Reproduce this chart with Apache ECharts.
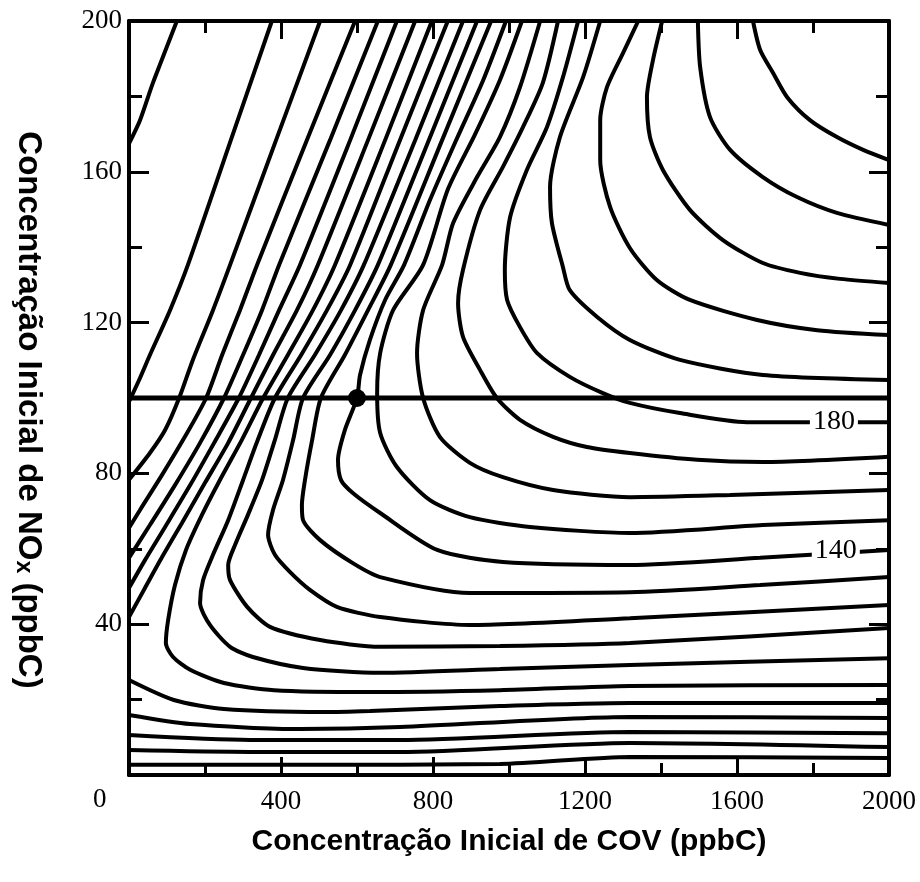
<!DOCTYPE html>
<html>
<head>
<meta charset="utf-8">
<script src="https://cdn.jsdelivr.net/npm/echarts@6/dist/echarts.min.js"></script>
<style>html,body{margin:0;padding:0;background:#fff}#c{width:920px;height:882px}</style>
</head>
<body>
<div id="c"></div>
<script>
// Axis ticks
const xTicks = [0, 400, 800, 1200, 1600, 2000];
const yTicks = [0, 40, 80, 120, 160, 200];

// Reference line NOx = 100 and the marked point
const refLine = [[0, 100], [2000, 100]];
const refPoint = [[600, 100]];

// Isopleth labels
const isoLabels = [
  { name: '180', value: [1855, 93.6] },
  { name: '140', value: [1860, 59.6] }
];

// Isopleths: segments from top edge to left edge (low VOC region)
const lineA1 = [[0,167.5],[29,173.7],[63,183.6],[126,200]];
const lineA2 = [[376,200],[268,168.4],[155,135.3],[108,123.3],[55,111.4],[29,105.3],[0,99]];
const lineA3 = [[503,200],[387,168.4],[266,135.3],[221,123.3],[168,110.1],[132,100],[95,91.5],[55,85.4],[0,78.3]];
const lineA4 = [[595,200],[468,168.4],[337,135.3],[292,123.3],[245,111.4],[203,100],[147,89.7],[87,79.6],[29,70.3],[0,65.5]];
const lineA5 = [[655,200],[529,168.4],[395,135.3],[350,123.3],[300,111.4],[250,100],[187,88.1],[121,76.9],[55,66.3],[0,57.6]];
const lineA6 = [[705,200],[582,168.4],[450,135.3],[395,123.3],[342,111.4],[289,100],[224,88.1],[161,76.9],[95,65.8],[42,57],[0,49.6]];
const lineA7 = [[753,200],[629,168.4],[497,135.3],[442,123.3],[379,111.4],[321,100],[261,88.1],[200,77.5],[139,66.8],[87,57.8],[42,49.6],[0,41.9]];

// Isopleths: turning curves from top edge to right edge
const lineT1 = [[797,200],[674,168.4],[542,135.3],[484,123.3],[418,111.4],[353,100],[297,88.9],[239,78.2],[192,69],[150,59.7],[121,50.4],[103,41.1],[97,35],[116,31.3],[161,27.9],[250,24.4],[382,22.5],[634,22],[976,22.5],[1318,23.6],[2000,23.9]];
const lineT2 = [[839,200],[713,168.4],[582,135.3],[521,123.3],[453,111.4],[384,100],[339,88.9],[300,78.2],[261,67.6],[221,58.4],[195,51.7],[187,45.6],[213,39.8],[266,34],[326,31.3],[458,28.4],[661,27.1],[976,28.1],[1318,29.2],[2000,31]];
const lineT3 = [[879,200],[753,168.4],[618,135.3],[558,123.3],[489,111.4],[418,100],[384,88.9],[350,78.2],[313,69],[279,61],[261,55.7],[266,51.7],[311,44.6],[371,39.3],[503,35.8],[661,34],[976,34.2],[1318,35],[2000,39]];
const lineT4 = [[916,200],[789,168.4],[655,135.3],[595,123.3],[529,111.4],[458,100],[432,88.9],[405,78.2],[379,70.3],[366,63.7],[384,58.4],[424,53.8],[476,49.1],[547,44.6],[661,41.9],[897,39.8],[1318,41.6],[2000,45.1]];
const lineT5 = [[953,200],[824,168.4],[689,135.3],[629,123.3],[568,111.4],[505,100],[482,88.9],[463,78.2],[455,71.6],[458,67.6],[503,62.3],[589,56.2],[661,52.5],[897,48.3],[1318,48.5],[1661,50.4],[2000,52.5]];
const line140 = [[992,200],[932,184.3],[861,168.4],[792,152.5],[724,135.3],[674,126],[634,115.4],[608,106.1],[600,100],[568,91.5],[550,83.6],[558,78.2],[589,74.8],[661,69.5],[811,59.7],[984,56.5],[1318,55.7],[1661,57.6],[2000,59.7]];
const line150 = [[1034,200],[976,184.3],[910,169.8],[839,155.3],[774,135.3],[695,123.3],[661,111.9],[653,101.3],[661,90.7],[705,81.7],[792,72.9],[897,68.4],[1055,65.8],[1318,64.2],[1668,66.3],[2000,67.6]];
const line160 = [[1082,200],[1029,182.5],[976,169.2],[916,158.6],[853,146.4],[824,135.3],[774,123.3],[758,111.9],[774,100],[818,89.7],[897,82.8],[984,79],[1116,75.6],[1318,73.7],[1582,74.3],[2000,75.6]];
const line170 = [[1129,200],[1089,183.6],[1037,171.9],[984,161.3],[924,149.9],[879,134],[866,125.2],[879,116.2],[924,107.4],[968,100],[1029,94.2],[1116,89.7],[1205,87],[1318,85.4],[1495,83.6],[1668,83],[2000,84.4]];
const line180 = [[1182,200],[1142,185.1],[1100,171.9],[1047,160.5],[1003,148],[989,134],[995,126],[1029,118.8],[1074,111.9],[1160,105.6],[1247,101.3],[1318,98.7],[1450,96],[1626,93.6],[2000,93.6]];
const line190 = [[1240,200],[1195,185.1],[1134,169.2],[1108,156],[1113,146.4],[1142,134.7],[1160,128.6],[1232,121.5],[1318,115.4],[1450,110.1],[1668,106.1],[2000,104.8]];
const line200 = [[1340,200],[1300,191.5],[1258,182.5],[1240,173.7],[1240,163.1],[1266,150.7],[1318,139.8],[1389,131.3],[1476,126],[1653,120.7],[1811,118],[2000,116.7]];
const line210 = [[1403,200],[1379,189.7],[1363,179.8],[1371,169.2],[1405,160.5],[1476,149.9],[1563,141.9],[1668,135.8],[1766,133.2],[1871,131.6],[2000,130.5]];
const line220 = [[1497,200],[1503,187.8],[1529,174.5],[1582,165.8],[1668,158.6],[1758,153.3],[1863,149.1],[2000,145.9]];
const line230 = [[1642,200],[1661,192.3],[1695,186.2],[1732,179.8],[1792,173.7],[1863,169.2],[1932,165.8],[2000,163.1]];

// Isopleths: low-NOx segments from left edge to right edge
const lineB1 = [[0,25.2],[118,19.9],[250,17.5],[513,16.7],[634,17],[976,18.3],[1318,19.1],[2000,19.1]];
const lineB2 = [[0,15.9],[161,13.5],[450,12.2],[713,12.7],[1318,15.4],[2000,15.1]];
const lineB3 = [[0,10.6],[318,9.3],[713,9.3],[1318,11.4],[2000,11.1]];
const lineB4 = [[0,6.6],[318,6.1],[713,6.1],[1318,8.5],[2000,7.4]];
const lineB5 = [[0,2.7],[450,2.7],[976,2.9],[1318,4.8],[2000,4.5]];

const contours = [lineA1,lineA2,lineA3,lineA4,lineA5,lineA6,lineA7,
  lineT1,lineT2,lineT3,lineT4,lineT5,line140,line150,line160,line170,line180,line190,line200,line210,line220,line230,
  lineB1,lineB2,lineB3,lineB4,lineB5];

const serif = 'Liberation Serif';
const sans = 'Liberation Sans';

const chart = echarts.init(document.getElementById('c'), null, { renderer: 'canvas' });

const lineStyleAxis = { color: '#000', width: 4 };
const tickStyle = { color: '#000', width: 3 };

function xAx(pos, labels) {
  return {
    type: 'value', position: pos, min: xTicks[0], max: xTicks[xTicks.length - 1], interval: xTicks[1] - xTicks[0],
    axisLine: { show: true, onZero: false, lineStyle: lineStyleAxis },
    axisTick: { show: true, inside: true, length: 18, lineStyle: tickStyle },
    minorTick: { show: true, splitNumber: 2, length: 12, lineStyle: tickStyle },
    splitLine: { show: false }, minorSplitLine: { show: false },
    axisLabel: { show: labels, showMinLabel: false, margin: 13, fontFamily: serif, fontSize: 27, color: '#000',
      formatter: v => String(v) },
    name: labels ? 'Concentração Inicial de COV (ppbC)' : '',
    nameLocation: 'middle', nameGap: 52,
    nameTextStyle: { fontFamily: sans, fontWeight: 'bold', fontSize: 30, color: '#000' }
  };
}
function yAx(pos, labels) {
  return {
    type: 'value', position: pos, min: yTicks[0], max: yTicks[yTicks.length - 1], interval: yTicks[1] - yTicks[0],
    axisLine: { show: true, onZero: false, lineStyle: lineStyleAxis },
    axisTick: { show: true, inside: true, length: 20, lineStyle: tickStyle },
    minorTick: { show: true, splitNumber: 2, length: 13, lineStyle: tickStyle },
    splitLine: { show: false }, minorSplitLine: { show: false },
    axisLabel: { show: labels, showMinLabel: false, margin: 7, fontFamily: serif, fontSize: 27, color: '#000',
      formatter: v => String(v) },
    name: labels ? 'Concentração Inicial de NO{s|x} (ppbC)' : '',
    nameLocation: 'middle', nameGap: 84, nameRotate: -90,
    nameTextStyle: { fontFamily: sans, fontWeight: 'bold', fontSize: 33, color: '#000', padding: [0, 0, 0, 24],
      rich: { s: { fontFamily: sans, fontWeight: 'bold', fontSize: 23, color: '#000', verticalAlign: 'bottom' } } }
  };
}

const series = contours.map(d => ({
  type: 'line', data: d, xAxisIndex: 0, yAxisIndex: 0,
  smooth: 0.25, showSymbol: false, symbol: 'none', silent: true,
  lineStyle: { color: '#000', width: 4 }, z: 2
}));
series.push({
  type: 'line', data: refLine, showSymbol: false, symbol: 'none', silent: true,
  lineStyle: { color: '#000', width: 5 }, z: 3
});
series.push({
  type: 'scatter', data: refPoint, symbol: 'circle', symbolSize: 18, silent: true,
  itemStyle: { color: '#000', opacity: 1 }, z: 4
});
series.push({
  type: 'scatter', data: isoLabels, symbol: 'rect', symbolSize: [1, 1], silent: true,
  itemStyle: { color: '#fff', opacity: 1 }, z: 5,
  label: { show: true, position: 'inside', formatter: '{b}', fontFamily: serif, fontSize: 28, color: '#000',
    textBorderWidth: 0, textBorderColor: 'transparent',
    backgroundColor: '#fff', padding: [0, 3] }
});

chart.setOption({
  animation: false,
  backgroundColor: '#fff',
  grid: { left: 129, right: 31, top: 21, bottom: 107, containLabel: false },
  xAxis: [xAx('bottom', true), xAx('top', false)],
  yAxis: [yAx('left', true), yAx('right', false)],
  graphic: [{ type: 'text', left: 93, top: 786, style: { text: String(xTicks[0]), fontFamily: serif, fontSize: 27, fill: '#000' } }],
  series: series
});
</script>
</body>
</html>
